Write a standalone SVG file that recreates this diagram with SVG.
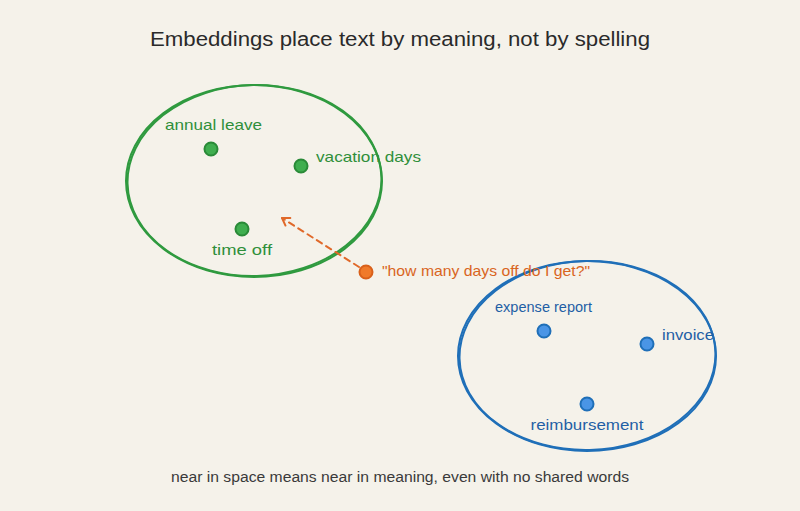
<svg xmlns="http://www.w3.org/2000/svg" width="800" height="511" viewBox="0 0 800 511">
<defs>
<style>
text{font-family:"Liberation Sans","DejaVu Sans",sans-serif}
.title{font-size:20px;fill:#2a2a2a;text-anchor:middle}
.foot{font-size:14px;fill:#3a3a3a;text-anchor:middle}
.g{fill:#2f8f3a;font-size:15px}
.b{fill:#1f5fa5;font-size:15px}
.o{fill:#d9651e;font-size:15px}
.ge{fill:none;stroke:#2f9a3f;stroke-width:2}
.be{fill:none;stroke:#1f6fb8;stroke-width:2}
.gd{fill:#3fae4f;stroke:#2a8a38;stroke-width:2}
.bd{fill:#4a95e6;stroke:#1f6fb8;stroke-width:2}
.od{fill:#f07a2a;stroke:#d9601a;stroke-width:2}
</style>
<marker id="arr" viewBox="0 0 12 12" refX="10" refY="6" markerWidth="12" markerHeight="12" markerUnits="userSpaceOnUse" orient="auto">
<path d="M3,1.5 L10,6 L3,10.5" fill="none" stroke="#e0692a" stroke-width="2" stroke-linecap="round" stroke-linejoin="round"/>
</marker>
</defs>
<rect width="800" height="511" fill="#f5f2ea"/>
<text class="title" x="400" y="46" textLength="500" lengthAdjust="spacingAndGlyphs">Embeddings place text by meaning, not by spelling</text>
<g id="cluster-leave">
<ellipse class="ge" cx="254" cy="181" rx="128" ry="96"/>
<ellipse class="ge" cx="254.5" cy="180.5" rx="127" ry="95.5" transform="rotate(-1.5 254 181)" stroke-width="1"/>
</g>
<g id="node-annual-leave">
<circle class="gd" cx="211" cy="149" r="6.5"/>
<text class="g" x="165" y="130" textLength="97" lengthAdjust="spacingAndGlyphs">annual leave</text>
</g>
<g id="node-vacation-days">
<circle class="gd" cx="301" cy="166" r="6.5"/>
<text class="g" x="316" y="162" textLength="105" lengthAdjust="spacingAndGlyphs">vacation days</text>
</g>
<g id="node-time-off">
<circle class="gd" cx="242" cy="229" r="6.5"/>
<text class="g" x="242" y="255" text-anchor="middle" textLength="60" lengthAdjust="spacingAndGlyphs">time off</text>
</g>
<g id="cluster-expense">
<ellipse class="be" cx="587" cy="356" rx="129" ry="95"/>
<ellipse class="be" cx="587.5" cy="355.5" rx="128" ry="94.5" transform="rotate(-1.5 587 356)" stroke-width="1"/>
</g>
<g id="node-expense-report">
<circle class="bd" cx="544" cy="331" r="6.5"/>
<text class="b" x="495" y="312" textLength="97" lengthAdjust="spacingAndGlyphs">expense report</text>
</g>
<g id="node-invoice">
<circle class="bd" cx="647" cy="344" r="6.5"/>
<text class="b" x="662" y="340" textLength="52" lengthAdjust="spacingAndGlyphs">invoice</text>
</g>
<g id="node-reimbursement">
<circle class="bd" cx="587" cy="404" r="6.5"/>
<text class="b" x="587" y="430" text-anchor="middle" textLength="113" lengthAdjust="spacingAndGlyphs">reimbursement</text>
</g>
<g id="node-query">
<circle class="od" cx="366" cy="272" r="6.5"/>
<text class="o" x="382" y="276" textLength="208" lengthAdjust="spacingAndGlyphs">"how many days off do I get?"</text>
</g>
<g id="connectors">
<path d="M359,267 L282,218" fill="none" stroke="#e0692a" stroke-width="2" stroke-dasharray="6,5" stroke-linecap="round" marker-end="url(#arr)"/>
</g>
<text class="foot" x="400" y="482" textLength="458" lengthAdjust="spacingAndGlyphs">near in space means near in meaning, even with no shared words</text>
</svg>
